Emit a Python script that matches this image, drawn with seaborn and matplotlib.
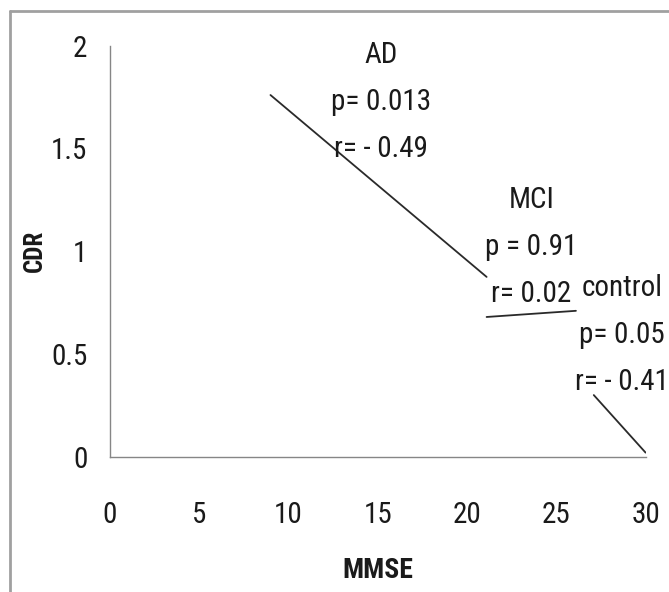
import matplotlib
matplotlib.use("Agg")
from matplotlib import pyplot as plt
from matplotlib import font_manager
from matplotlib.lines import Line2D
import seaborn as sns
import pandas as pd

# regression lines (MMSE vs CDR)
groups = ["AD", "AD", "MCI", "MCI", "control", "control"]
mmse = [9.0, 21.1, 21.1, 26.1, 27.1, 30.0]
cdr = [1.76, 0.875, 0.68, 0.71, 0.30, 0.02]

# annotation text per group
labels = ["AD", "MCI", "control"]
p_text = ["p= 0.013", "p = 0.91", "p= 0.05"]
r_text = ["r= - 0.49", "r= 0.02", "r= - 0.41"]
label_x = [15.2, 23.6, 28.7]
label_y = [1.955, 1.25, 0.82]

x_ticks = [0, 5, 10, 15, 20, 25, 30]
y_ticks = [0, 0.5, 1, 1.5, 2]
y_tick_labels = ["0", "0.5", "1", "1.5", "2"]

sns.set_style("white")

# look for a narrow sans face, close to the Calibri look of the original
entries = font_manager.fontManager.ttflist
names = {f.name for f in entries}
fam, stretch, size = "Liberation Sans", "normal", 17
for cand in ["Liberation Sans Narrow", "Roboto Condensed", "Open Sans Condensed",
             "Noto Sans Condensed", "DejaVu Sans Condensed"]:
    if cand in names:
        fam, size = cand, 21
        break
else:
    for pref in ["Noto Sans", "Open Sans", "Roboto", "DejaVu Sans"]:
        cond = [f for f in entries if f.name == pref and str(f.stretch) in
                ("condensed", "semi-condensed", "extra-condensed", "ultra-condensed")]
        if cond:
            fam, stretch, size = pref, str(cond[0].stretch), 21
            break
plt.rcParams["font.family"] = [fam, "DejaVu Sans"]
plt.rcParams["font.stretch"] = stretch

df = pd.DataFrame({"group": groups, "MMSE": mmse, "CDR": cdr})

fig = plt.figure(figsize=(6.69, 5.92), dpi=100)
ax = fig.add_axes([0.164, 0.2285, 0.801, 0.6943])

sns.lineplot(data=df, x="MMSE", y="CDR", units="group", estimator=None,
             color="#2a2a2a", linewidth=1.3, ax=ax)

ax.set_xlim(0, 30)
ax.set_ylim(0, 2)
ax.set_xticks(x_ticks)
ax.set_yticks(y_ticks)
ax.set_yticklabels(y_tick_labels)
ax.tick_params(axis="both", direction="out", length=6, width=1, color="#868686",
               labelsize=size, labelcolor="#1a1a1a")
ax.tick_params(axis="x", pad=26)
ax.tick_params(axis="y", pad=10)
for side in ["top", "right"]:
    ax.spines[side].set_visible(False)
for side in ["left", "bottom"]:
    ax.spines[side].set_color("#868686")
    ax.spines[side].set_linewidth(1)

ax.set_xlabel("MMSE", fontsize=size - 1, fontweight="bold", labelpad=20, color="#1a1a1a")
ax.set_ylabel("CDR", fontsize=size - 3, fontweight="bold", labelpad=3, color="#1a1a1a")

step = 0.228
for name, pt, rt, lx, ly in zip(labels, p_text, r_text, label_x, label_y):
    for k, t in enumerate([name, pt, rt]):
        ax.text(lx, ly - k * step, t, ha="center", va="center", fontsize=size,
                color="#1a1a1a", clip_on=False)

# outer frame (top and left edges visible)
top = 1 - 11 / 592
left = 10 / 669
fig.add_artist(Line2D([left, 1], [top, top], transform=fig.transFigure,
                      color="#a0a0a0", linewidth=2))
fig.add_artist(Line2D([left, left], [0, top], transform=fig.transFigure,
                      color="#a0a0a0", linewidth=2))

fig.savefig("out.png", dpi=100)
